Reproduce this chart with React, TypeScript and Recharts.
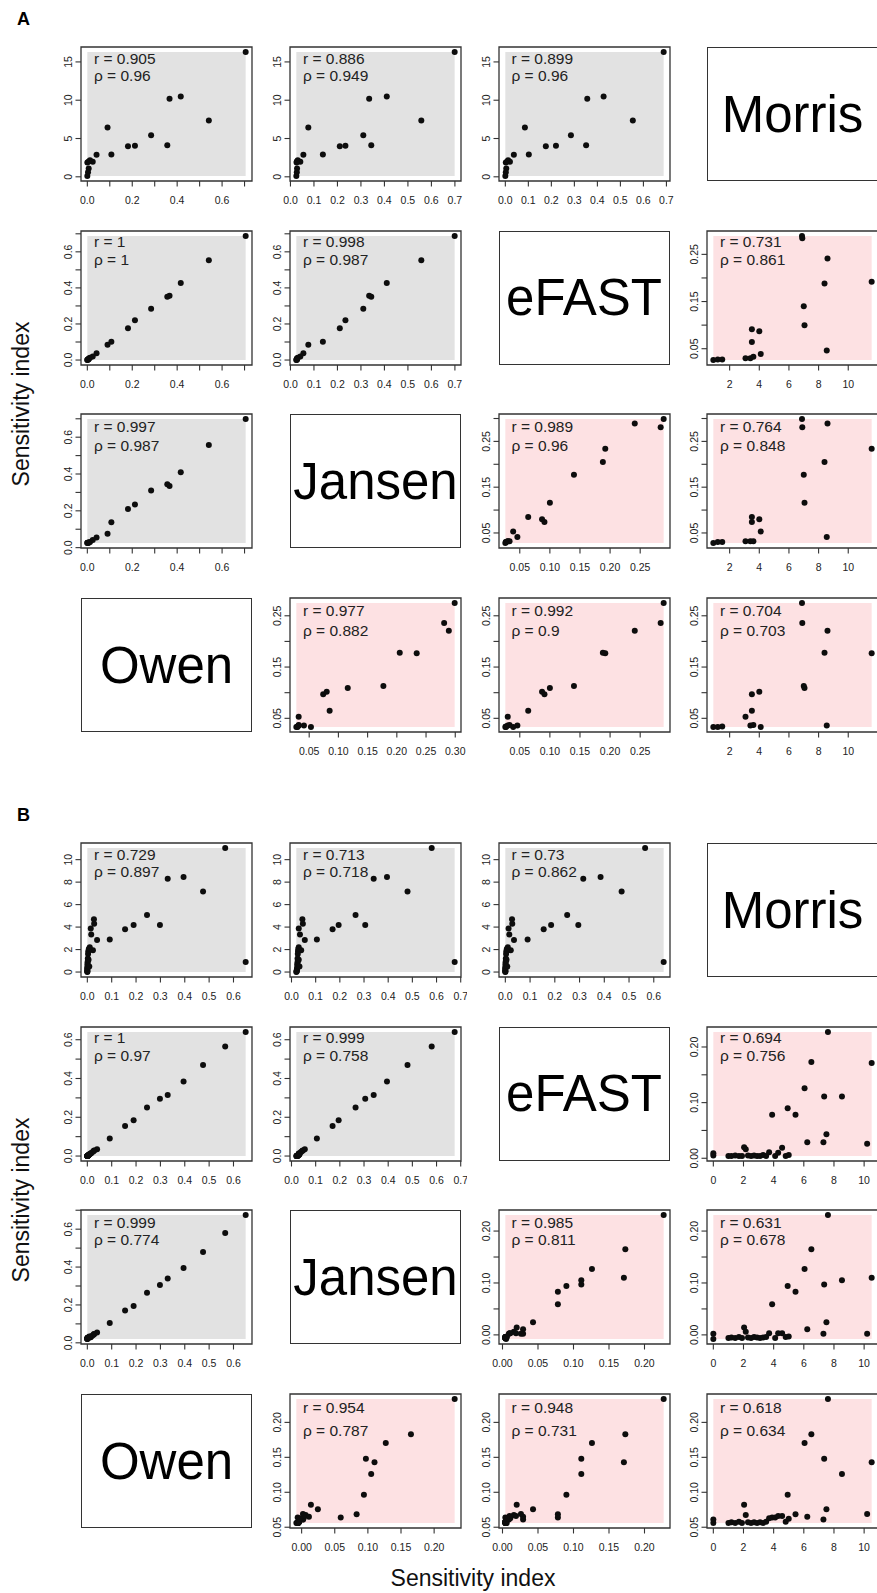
import React from 'react';
import { ScatterChart, Scatter, XAxis, YAxis, ReferenceArea } from 'recharts';

// ================= DATA =================
const METHOD_LABELS = ['Owen', 'Jansen', 'eFAST', 'Morris']; // column order
const SECTION_LABELS = ['A', 'B'];
const AXIS_TITLE = 'Sensitivity index';

// ---- Section A: total-order indices and Morris mu* (grey panels)
const A_morrisMu = [16.3, 7.35, 10.5, 10.2, 4.13, 5.43, 4.04, 4.0, 2.91, 6.43, 2.87, 1.96, 2.15, 2.0, 1.87, 1.1, 0.6, 0.1];
const A_owenT = [0.705, 0.541, 0.416, 0.366, 0.356, 0.284, 0.212, 0.181, 0.107, 0.09, 0.041, 0.024, 0.012, 0.006, 0.0, 0.006, 0.003, 0.0];
const A_jansenT = [0.699, 0.557, 0.41, 0.335, 0.344, 0.31, 0.234, 0.21, 0.138, 0.076, 0.055, 0.042, 0.031, 0.027, 0.026, 0.028, 0.027, 0.025];
const A_efastT = [0.688, 0.554, 0.427, 0.356, 0.351, 0.285, 0.22, 0.176, 0.102, 0.085, 0.037, 0.02, 0.012, 0.008, 0.002, 0.004, 0.002, 0.0];

// ---- Section A: first-order indices and Morris sigma (pink panels)
const A_morrisSigma = [6.88, 6.9, 8.6, 11.58, 8.4, 7.0, 7.05, 3.5, 4.0, 3.5, 8.55, 4.1, 3.07, 3.4, 3.6, 0.9, 1.2, 1.5];
const A_efastS = [0.289, 0.284, 0.241, 0.192, 0.188, 0.14, 0.1, 0.091, 0.087, 0.064, 0.046, 0.039, 0.03, 0.03, 0.033, 0.026, 0.027, 0.027];
const A_jansenS = [0.299, 0.281, 0.289, 0.234, 0.205, 0.177, 0.116, 0.074, 0.08, 0.085, 0.041, 0.053, 0.032, 0.032, 0.032, 0.028, 0.03, 0.03];
const A_owenS = [0.275, 0.236, 0.221, 0.177, 0.178, 0.113, 0.109, 0.097, 0.102, 0.065, 0.036, 0.033, 0.053, 0.036, 0.037, 0.033, 0.033, 0.034];

// ---- Section B: total-order indices and Morris mu* (grey panels)
const B_morrisMu = [0.9, 11.04, 7.16, 8.45, 8.3, 4.18, 5.07, 4.18, 3.8, 2.9, 2.84, 4.69, 4.3, 3.34, 3.88, 1.94, 2.2, 2.05, 1.85, 1.6, 1.2, 1.0, 0.85, 0.7, 0.55, 0.4, 0.3, 0.2, 0.1, 0.05, 0.0, 1.1, 0.5];
const B_owenT = [0.65, 0.566, 0.475, 0.395, 0.33, 0.298, 0.245, 0.19, 0.155, 0.092, 0.04, 0.027, 0.028, 0.016, 0.014, 0.023, 0.01, 0.006, 0.004, 0.003, 0.002, 0.002, 0.001, 0.001, 0.001, 0, 0, 0, 0, 0, 0, 0.005, 0.008];
const B_jansenT = [0.675, 0.58, 0.48, 0.395, 0.34, 0.305, 0.265, 0.195, 0.17, 0.105, 0.055, 0.045, 0.047, 0.035, 0.03, 0.04, 0.03, 0.028, 0.027, 0.026, 0.025, 0.026, 0.025, 0.024, 0.025, 0.024, 0.023, 0.022, 0.022, 0.021, 0.02, 0.03, 0.033];
const B_efastT = [0.64, 0.565, 0.47, 0.385, 0.315, 0.295, 0.25, 0.185, 0.155, 0.09, 0.035, 0.027, 0.028, 0.016, 0.013, 0.022, 0.01, 0.006, 0.004, 0.003, 0.002, 0.002, 0.001, 0.001, 0.001, 0, 0, 0, 0, 0, 0, 0.005, 0.008];

// ---- Section B: first-order indices and Morris sigma (pink panels)
const B_morrisSigma = [7.6, 6.5, 10.5, 6.05, 7.35, 8.53, 4.93, 5.45, 3.9, 7.5, 6.23, 7.3, 10.2, 2.04, 2.15, 4.56, 0, 0, 1.0, 1.2, 1.45, 1.7, 1.9, 2.3, 2.5, 2.7, 2.9, 3.1, 3.3, 3.5, 3.7, 4.1, 4.3, 4.8, 5.0];
const B_efastS = [0.227, 0.173, 0.171, 0.126, 0.111, 0.111, 0.09, 0.078, 0.078, 0.043, 0.029, 0.029, 0.026, 0.02, 0.016, 0.019, 0.005, 0.009, 0.004, 0.004, 0.005, 0.004, 0.004, 0.005, 0.004, 0.005, 0.004, 0.004, 0.006, 0.004, 0.011, 0.004, 0.01, 0.004, 0.006];
const B_jansenS = [0.231, 0.165, 0.11, 0.127, 0.097, 0.105, 0.094, 0.083, 0.059, 0.0245, 0.011, 0.002, 0.002, 0.014, 0.006, 0.003, -0.008, 0.002, -0.006, -0.005, -0.006, -0.004, -0.006, -0.005, -0.006, -0.004, -0.005, -0.006, -0.005, -0.004, 0.003, -0.006, 0.003, -0.004, -0.003];
const B_owenS = [0.2335, 0.183, 0.143, 0.1705, 0.148, 0.126, 0.0965, 0.0686, 0.0638, 0.0758, 0.065, 0.061, 0.069, 0.082, 0.0675, 0.066, 0.056, 0.061, 0.056, 0.057, 0.056, 0.058, 0.056, 0.057, 0.056, 0.057, 0.056, 0.057, 0.056, 0.058, 0.063, 0.064, 0.066, 0.058, 0.062];

// ---- tick values
const TICKS_TENTHS = [0, 0.1, 0.2, 0.3, 0.4, 0.5, 0.6, 0.7];
const TICKS_MU_A = [0, 5, 10, 15];
const TICKS_MU_B = [0, 2, 4, 6, 8, 10];
const TICKS_SIGMA_A = [2, 4, 6, 8, 10];
const TICKS_SIGMA_B = [0, 2, 4, 6, 8, 10];
const TICKS_FIRST_A = [0.05, 0.1, 0.15, 0.2, 0.25, 0.3];
const TICKS_FIRST_B = [0, 0.05, 0.1, 0.15, 0.2];

// ---- correlation labels (r, rho) per panel
const A_r = ['0.905', '0.886', '0.899', '1', '0.998', '0.731', '0.997', '0.989', '0.764', '0.977', '0.992', '0.704'];
const A_rho = ['0.96', '0.949', '0.96', '1', '0.987', '0.861', '0.987', '0.96', '0.848', '0.882', '0.9', '0.703'];
const B_r = ['0.729', '0.713', '0.73', '1', '0.999', '0.694', '0.999', '0.985', '0.631', '0.954', '0.948', '0.618'];
const B_rho = ['0.897', '0.718', '0.862', '0.97', '0.758', '0.756', '0.774', '0.811', '0.678', '0.787', '0.731', '0.634'];

// ================= STYLE / LAYOUT =================
const FONT = '"Liberation Sans", Arial, Helvetica, sans-serif';
const INK = '#222';
const BOX_STROKE = '#333';
const GREY = '#E2E2E2';
const PINK = '#FDE1E3';
const COL_X = [81, 290, 498.5, 707];
const ROW_Y = [47, 230.7, 414.4, 598.1];
const SECTION_DY = [0, 796];
const BOX_W = 171;
const BOX_H = 134;
const YW = 40;
const XH = 32;
const MT = 6;
const MR = 6;
const TEXT_OFF = [
  [[11.3, 28], [10.7, 29], [12, 31], [12.3, 32.3]],
  [[11.7, 28.3], [11, 28.3], [11.7, 29.3], [13.4, 36.4]],
];

type AxisSpec = { ticks: number[]; decimals: number; every: number };
const ax = (ticks: number[], decimals: number, every: number): AxisSpec => ({ ticks, decimals, every });

const tenthsAlt = ax(TICKS_TENTHS, 1, 2);
const tenthsAll = ax(TICKS_TENTHS, 1, 1);
const muA = ax(TICKS_MU_A, 0, 1);
const muB = ax(TICKS_MU_B, 0, 1);
const sigA = ax(TICKS_SIGMA_A, 0, 1);
const sigB = ax(TICKS_SIGMA_B, 0, 1);
const firstAAll = ax(TICKS_FIRST_A, 2, 1);
const firstAAlt = ax(TICKS_FIRST_A, 2, 2);
const firstBAll = ax(TICKS_FIRST_B, 2, 1);
const firstBAlt = ax(TICKS_FIRST_B, 2, 2);

type PanelSpec = {
  row: number; col: number; x: number[]; y: number[];
  xa: AxisSpec; ya: AxisSpec; bg: string;
};

const PANELS_A: PanelSpec[] = [
  { row: 0, col: 0, x: A_owenT, y: A_morrisMu, xa: tenthsAlt, ya: muA, bg: GREY },
  { row: 0, col: 1, x: A_jansenT, y: A_morrisMu, xa: tenthsAll, ya: muA, bg: GREY },
  { row: 0, col: 2, x: A_efastT, y: A_morrisMu, xa: tenthsAll, ya: muA, bg: GREY },
  { row: 1, col: 0, x: A_owenT, y: A_efastT, xa: tenthsAlt, ya: tenthsAlt, bg: GREY },
  { row: 1, col: 1, x: A_jansenT, y: A_efastT, xa: tenthsAll, ya: tenthsAlt, bg: GREY },
  { row: 1, col: 3, x: A_morrisSigma, y: A_efastS, xa: sigA, ya: firstAAlt, bg: PINK },
  { row: 2, col: 0, x: A_owenT, y: A_jansenT, xa: tenthsAlt, ya: tenthsAlt, bg: GREY },
  { row: 2, col: 2, x: A_efastS, y: A_jansenS, xa: firstAAll, ya: firstAAlt, bg: PINK },
  { row: 2, col: 3, x: A_morrisSigma, y: A_jansenS, xa: sigA, ya: firstAAlt, bg: PINK },
  { row: 3, col: 1, x: A_jansenS, y: A_owenS, xa: firstAAll, ya: firstAAlt, bg: PINK },
  { row: 3, col: 2, x: A_efastS, y: A_owenS, xa: firstAAll, ya: firstAAlt, bg: PINK },
  { row: 3, col: 3, x: A_morrisSigma, y: A_owenS, xa: sigA, ya: firstAAlt, bg: PINK },
];

const PANELS_B: PanelSpec[] = [
  { row: 0, col: 0, x: B_owenT, y: B_morrisMu, xa: tenthsAll, ya: muB, bg: GREY },
  { row: 0, col: 1, x: B_jansenT, y: B_morrisMu, xa: tenthsAll, ya: muB, bg: GREY },
  { row: 0, col: 2, x: B_efastT, y: B_morrisMu, xa: tenthsAll, ya: muB, bg: GREY },
  { row: 1, col: 0, x: B_owenT, y: B_efastT, xa: tenthsAll, ya: tenthsAlt, bg: GREY },
  { row: 1, col: 1, x: B_jansenT, y: B_efastT, xa: tenthsAll, ya: tenthsAlt, bg: GREY },
  { row: 1, col: 3, x: B_morrisSigma, y: B_efastS, xa: sigB, ya: firstBAlt, bg: PINK },
  { row: 2, col: 0, x: B_owenT, y: B_jansenT, xa: tenthsAll, ya: tenthsAlt, bg: GREY },
  { row: 2, col: 2, x: B_efastS, y: B_jansenS, xa: firstBAll, ya: firstBAlt, bg: PINK },
  { row: 2, col: 3, x: B_morrisSigma, y: B_jansenS, xa: sigB, ya: firstBAlt, bg: PINK },
  { row: 3, col: 1, x: B_jansenS, y: B_owenS, xa: firstBAll, ya: firstBAll, bg: PINK },
  { row: 3, col: 2, x: B_efastS, y: B_owenS, xa: firstBAll, ya: firstBAll, bg: PINK },
  { row: 3, col: 3, x: B_morrisSigma, y: B_owenS, xa: sigB, ya: firstBAll, bg: PINK },
];

const SECTIONS = [
  { panels: PANELS_A, r: A_r, rho: A_rho },
  { panels: PANELS_B, r: B_r, rho: B_rho },
];

// ================= COMPONENTS =================
function extent(v: number[]) {
  const lo = Math.min(...v);
  const hi = Math.max(...v);
  return [lo, hi];
}
function padded(lo: number, hi: number) {
  const d = (hi - lo) * 0.04;
  return [lo - d, hi + d];
}

function makeXTick(a: AxisSpec) {
  return (p: any) => {
    const { x, y, payload } = p;
    const v = payload.value;
    const idx = a.ticks.indexOf(v);
    const show = idx >= 0 && idx % a.every === 0;
    return (
      <g>
        <line x1={x} x2={x} y1={y} y2={y + 5.5} stroke={BOX_STROKE} strokeWidth={1.1} />
        {show && (
          <text x={x} y={y + 19} textAnchor="middle" dominantBaseline="central" fontSize={10.5} fontFamily={FONT} fill={INK}>
            {v.toFixed(a.decimals)}
          </text>
        )}
      </g>
    );
  };
}

function makeYTick(a: AxisSpec) {
  return (p: any) => {
    const { x, y, payload } = p;
    const v = payload.value;
    const idx = a.ticks.indexOf(v);
    const show = idx >= 0 && idx % a.every === 0;
    const lx = x - 13.3;
    return (
      <g>
        <line x1={x - 5.5} x2={x} y1={y} y2={y} stroke={BOX_STROKE} strokeWidth={1.1} />
        {show && (
          <text x={lx} y={y} transform={`rotate(-90 ${lx} ${y})`} textAnchor="middle" dominantBaseline="central" fontSize={10.5} fontFamily={FONT} fill={INK}>
            {v.toFixed(a.decimals)}
          </text>
        )}
      </g>
    );
  };
}

const Dot = (p: any) => <circle cx={p.cx} cy={p.cy} r={3} fill="#0d0d0d" />;

function Panel({ spec, top, r, rho, textOff }: { spec: PanelSpec; top: number; r: string; rho: string; textOff: number[] }) {
  const left = COL_X[spec.col];
  const data = spec.x.map((x, i) => ({ x, y: spec.y[i] }));
  const [x0, x1] = extent(spec.x);
  const [y0, y1] = extent(spec.y);
  const xd = padded(x0, x1);
  const yd = padded(y0, y1);
  const xt = spec.xa.ticks.filter((t) => t >= xd[0] && t <= xd[1]);
  const yt = spec.ya.ticks.filter((t) => t >= yd[0] && t <= yd[1]);
  return (
    <>
      <div style={{ position: 'absolute', left: left - YW, top: top - MT }}>
        <ScatterChart width={YW + BOX_W + MR} height={MT + BOX_H + XH} margin={{ top: MT, right: MR, bottom: 0, left: 0 }}>
          <XAxis type="number" dataKey="x" domain={xd} ticks={xt} interval={0} allowDataOverflow
            tick={makeXTick(spec.xa)} tickLine={false} axisLine={false} tickSize={0} tickMargin={0} height={XH} />
          <YAxis type="number" dataKey="y" domain={yd} ticks={yt} interval={0} allowDataOverflow
            tick={makeYTick(spec.ya)} tickLine={false} axisLine={false} tickSize={0} tickMargin={0} width={YW} />
          <ReferenceArea x1={x0} x2={x1} y1={y0} y2={y1} fill={spec.bg} fillOpacity={1} stroke="none" ifOverflow="visible" />
          <Scatter data={data} isAnimationActive={false} shape={Dot} />
          <ReferenceArea x1={xd[0]} x2={xd[1]} y1={yd[0]} y2={yd[1]} fill="none" fillOpacity={0} stroke={BOX_STROKE} strokeWidth={1.3} ifOverflow="visible" />
        </ScatterChart>
      </div>
      <div style={{ position: 'absolute', left: left + 13, top: top + textOff[0] - 7.5, fontSize: 15.5, lineHeight: '15px', whiteSpace: 'nowrap', color: INK }}>
        {`r = ${r}`}
      </div>
      <div style={{ position: 'absolute', left: left + 13, top: top + textOff[1] - 7.5, fontSize: 15.5, lineHeight: '15px', whiteSpace: 'nowrap', color: INK }}>
        {`\u03C1 = ${rho}`}
      </div>
    </>
  );
}

function MethodBox({ col, top }: { col: number; top: number }) {
  return (
    <div style={{
      position: 'absolute', left: COL_X[col], top, width: BOX_W, height: BOX_H, boxSizing: 'border-box',
      border: `1.3px solid ${BOX_STROKE}`, display: 'flex', alignItems: 'center', justifyContent: 'center',
      fontSize: 51, lineHeight: '51px', color: '#000', whiteSpace: 'nowrap', overflow: 'visible',
    }}>
      {METHOD_LABELS[col]}
    </div>
  );
}

export default function App() {
  return (
    <div style={{ position: 'absolute', left: 0, top: 0, width: 877, height: 1593, overflow: 'hidden', background: '#fff', fontFamily: FONT }}>
      {SECTIONS.map((sec, si) => {
        const dy = SECTION_DY[si];
        return (
          <React.Fragment key={si}>
            <div style={{ position: 'absolute', left: 17, top: dy + 9.8, fontSize: 18, fontWeight: 'bold', lineHeight: '18px' }}>
              {SECTION_LABELS[si]}
            </div>
            <div style={{
              position: 'absolute', left: 21, top: dy + 404, transform: 'translate(-50%, -50%) rotate(-90deg)',
              fontSize: 23, lineHeight: '23px', whiteSpace: 'nowrap', color: '#111',
            }}>
              {AXIS_TITLE}
            </div>
            {sec.panels.map((p, i) => (
              <Panel key={i} spec={p} top={dy + ROW_Y[p.row]} r={sec.r[i]} rho={sec.rho[i]} textOff={TEXT_OFF[si][p.row]} />
            ))}
            {[0, 1, 2, 3].map((row) => (
              <MethodBox key={row} col={3 - row} top={dy + ROW_Y[row]} />
            ))}
          </React.Fragment>
        );
      })}
      <div style={{
        position: 'absolute', left: 473, top: 1566.5, transform: 'translateX(-50%)',
        fontSize: 23, lineHeight: '23px', whiteSpace: 'nowrap', color: '#111',
      }}>
        {AXIS_TITLE}
      </div>
    </div>
  );
}
